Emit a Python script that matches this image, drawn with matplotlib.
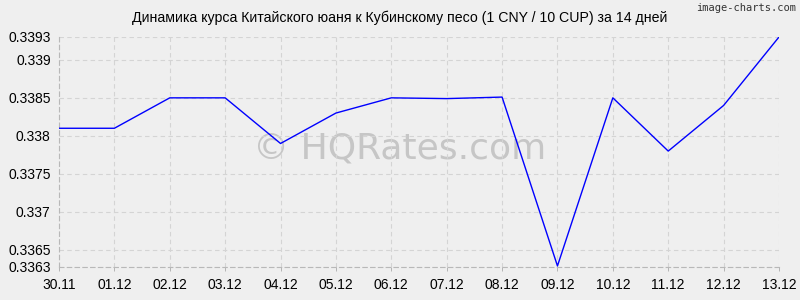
import numpy as np
import matplotlib.pyplot as plt

plt.rcParams['font.family'] = ['Liberation Sans', 'DejaVu Sans']

dates = ['30.11', '01.12', '02.12', '03.12', '04.12', '05.12', '06.12',
         '07.12', '08.12', '09.12', '10.12', '11.12', '12.12', '13.12']
rates = [0.3381, 0.3381, 0.3385, 0.3385, 0.3379, 0.3383, 0.3385,
         0.33849, 0.33851, 0.33629, 0.3385, 0.3378, 0.3384, 0.3393]
yticks = [0.33628, 0.3365, 0.337, 0.3375, 0.338, 0.3385, 0.339, 0.3393]
ytick_labels = ['0.3363', '0.3365', '0.337', '0.3375', '0.338', '0.3385', '0.339', '0.3393']

bg = '#efefef'
fig = plt.figure(figsize=(8, 3), dpi=100, facecolor=bg)
ax = fig.add_axes([0.07375, 0.111, 0.9, 0.7657], facecolor=bg)

x = np.arange(len(dates))
ax.plot(x, rates, color='#0000ff', lw=1.0, zorder=3)

ax.set_xlim(0, len(dates) - 1)
ax.set_ylim(0.33628, 0.3393)
ax.set_xticks(x)
ax.set_xticklabels(dates)
ax.set_yticks(yticks)
ax.set_yticklabels(ytick_labels)
ax.tick_params(labelsize=10, colors='#000000', length=3, width=0.6)
ax.tick_params(axis='y', length=0, pad=6)
ax.tick_params(axis='x', color='#aaaaaa', pad=5)

ax.grid(True, color='#d4d4d4', linestyle=(0, (4, 3)), lw=0.8)
for side in ['top', 'right']:
    ax.spines[side].set_visible(False)
for side in ['left', 'bottom']:
    ax.spines[side].set_color('#b8b8b8')
    ax.spines[side].set_linestyle((0, (4, 3)))
    ax.spines[side].set_linewidth(0.8)

fig.text(0.5, 0.94, 'Динамика курса Китайского юаня к Кубинскому песо (1 CNY / 10 CUP) за 14 дней',
         ha='center', va='center', fontsize=10.2)
fig.text(0.995, 0.972, 'image-charts.com', ha='right', va='center', fontsize=7.5,
         family='DejaVu Sans Mono', color='#333333')
ax.text(0.4735, 0.515, '© HQRates.com', transform=ax.transAxes, ha='center', va='center',
        fontsize=26, family='DejaVu Sans', color='#c6c6c6', zorder=1)

fig.savefig('out.png', dpi=100, facecolor=bg)
